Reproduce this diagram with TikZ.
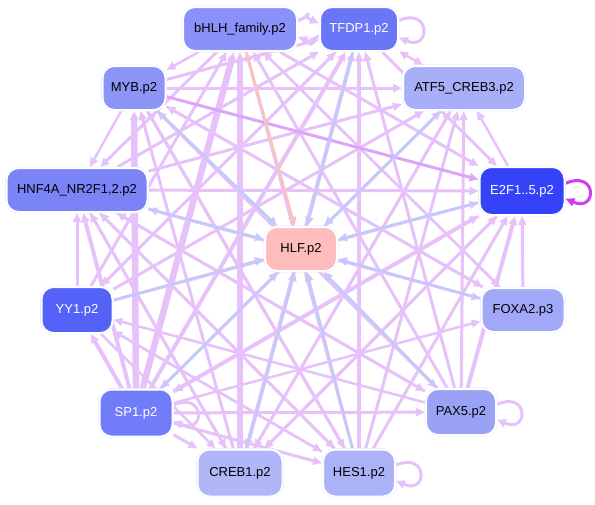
\documentclass[tikz,border=0pt]{standalone}
\usepackage{fontspec}
\setmainfont{Liberation Sans}
\usetikzlibrary{arrows.meta,backgrounds}
\definecolor{cbh}{RGB}{138,146,250}
\definecolor{ctf}{RGB}{106,118,248}
\definecolor{cmyb}{RGB}{140,148,246}
\definecolor{catf}{RGB}{168,174,248}
\definecolor{chnf}{RGB}{122,132,246}
\definecolor{ce2f}{RGB}{52,66,248}
\definecolor{chlf}{RGB}{255,188,188}
\definecolor{cyy}{RGB}{84,98,248}
\definecolor{cfox}{RGB}{162,168,248}
\definecolor{csp}{RGB}{112,124,248}
\definecolor{cpax}{RGB}{154,162,246}
\definecolor{ccreb}{RGB}{176,182,248}
\definecolor{ches}{RGB}{172,178,248}
\definecolor{epur}{RGB}{231,194,250}
\definecolor{epurd}{RGB}{220,166,248}
\definecolor{eblue}{RGB}{194,202,250}
\definecolor{esal}{RGB}{250,196,184}
\definecolor{eloop}{RGB}{204,64,240}
\definecolor{nborder}{RGB}{222,226,255}
\tikzset{
  gnode/.style={rectangle, rounded corners=12pt, minimum height=44pt, inner sep=3pt,
    font=\fontsize{13}{15}\selectfont,
    preaction={draw=nborder, line width=2.6pt}, draw=white, line width=2pt},
  pe/.style={draw=epur, -{Triangle[length=9pt,width=8pt]}},
  pd/.style={draw=epurd, -{Triangle[length=9pt,width=8pt]}},
  be/.style={draw=eblue, line width=2.5pt, -{Triangle[length=9pt,width=8pt]}},
}
\begin{document}
\begin{tikzpicture}[x=1pt,y=-1pt]
\useasboundingbox (0,0) rectangle (595,504);
\node[gnode, fill=cbh, minimum width=114pt] (bh) at (240,29) {bHLH\_family.p2};
\node[gnode, fill=ctf, text=white, minimum width=78pt] (tf) at (359,29) {TFDP1.p2};
\node[gnode, fill=cmyb, minimum width=63pt] (myb) at (134,88) {MYB.p2};
\node[gnode, fill=catf, minimum width=122pt] (atf) at (464,88) {ATF5\_CREB3.p2};
\node[gnode, fill=chnf, minimum width=141pt] (hnf) at (77,190) {HNF4A\_NR2F1,2.p2};
\node[gnode, fill=ce2f, text=white, minimum width=85pt, minimum height=48pt] (e2f) at (522,191) {E2F1..5.p2};
\node[gnode, fill=chlf, minimum width=72pt] (hlf) at (301,249) {HLF.p2};
\node[gnode, fill=cyy, text=white, minimum width=71pt, minimum height=46pt] (yy1) at (77,310) {YY1.p2};
\node[gnode, fill=cfox, minimum width=83pt] (fox) at (523,310) {FOXA2.p3};
\node[gnode, fill=csp, text=white, minimum width=73pt, minimum height=47pt] (sp1) at (136,413) {SP1.p2};
\node[gnode, fill=cpax, minimum width=70pt, minimum height=46pt] (pax) at (461,412) {PAX5.p2};
\node[gnode, fill=ccreb, minimum width=85pt, minimum height=47pt] (creb) at (240,473) {CREB1.p2};
\node[gnode, fill=ches, minimum width=72pt, minimum height=47pt] (hes) at (359,473) {HES1.p2};
\begin{scope}[on background layer]
\foreach \s/\t/\w in {
  sp1/bh/6.5, sp1/myb/6.5, sp1/tf/4, sp1/hnf/4, sp1/yy1/4, sp1/atf/3, sp1/e2f/4,
  sp1/creb/3, sp1/hes/3, sp1/pax/3, sp1/fox/2.5,
  yy1/hnf/3, yy1/bh/3, yy1/tf/3, yy1/atf/3, yy1/e2f/3, yy1/creb/2.5, yy1/hes/2.5,
  creb/bh/6.5, creb/tf/4, creb/hnf/3, creb/myb/3, creb/atf/3, creb/e2f/3,
  hes/bh/3, hes/tf/4, hes/myb/3, hes/hnf/3, hes/atf/3, hes/e2f/3, hes/yy1/2.5,
  pax/bh/3, pax/tf/3, pax/myb/3, pax/hnf/3, pax/atf/3, pax/e2f/4, pax/yy1/2.5,
  fox/e2f/3, fox/hnf/2.5, fox/myb/3, fox/bh/2.5,
  myb/atf/3, myb/hnf/2.5, myb/tf/3, myb/hes/3, myb/fox/2.5, myb/pax/2.5,
  bh/myb/2.5, bh/hnf/3, bh/e2f/3, bh/fox/2.5,
  hnf/e2f/3, hnf/atf/3, hnf/tf/3, hnf/creb/2.5, hnf/hes/2.5, hnf/fox/2.5, hnf/pax/2.5,
  tf/e2f/3, tf/creb/2.5, tf/yy1/2.5,
  e2f/atf/2.5, e2f/sp1/2.5, e2f/creb/2.5,
  atf/sp1/2.5, atf/creb/2.5}
  \draw[pe, line width=\w pt] (\s) -- (\t);
\draw[pd, line width=3pt] (myb) -- (e2f);
\draw[pe, line width=2.5pt, {Triangle[length=9pt,width=8pt]}-{Triangle[length=9pt,width=8pt]}] (tf) -- (atf);
\draw[pe, line width=3pt] (bh.8) .. controls +(22,-10) and +(-22,-10) .. (tf.172);
\draw[pe, line width=3pt] (tf.190) .. controls +(-22,10) and +(22,8) .. (bh.-8);
% self loops
\draw[pe, line width=3pt] (tf.12) .. controls +(32,-14) and +(32,14) .. (tf.-12);
\draw[draw=eloop, line width=3pt, -{Triangle[length=9pt,width=8pt]}] (e2f.10) .. controls +(32,-14) and +(32,14) .. (e2f.-10);
\draw[pe, line width=3pt] (pax.12) .. controls +(32,-14) and +(32,14) .. (pax.-12);
\draw[pe, line width=3pt] (hes.12) .. controls +(32,-14) and +(32,14) .. (hes.-12);
\draw[pe, line width=3pt] (sp1.12) .. controls +(32,-14) and +(32,14) .. (sp1.-12);
% edges to HLF
\foreach \s in {myb, tf, atf, hnf, e2f, yy1, fox, sp1, creb, hes, pax}
  \draw[be] (\s) -- (hlf);
\draw[draw=esal, line width=2.5pt, -{Triangle[length=9pt,width=8pt]}] (bh) -- (hlf);
\end{scope}
\end{tikzpicture}
\end{document}
